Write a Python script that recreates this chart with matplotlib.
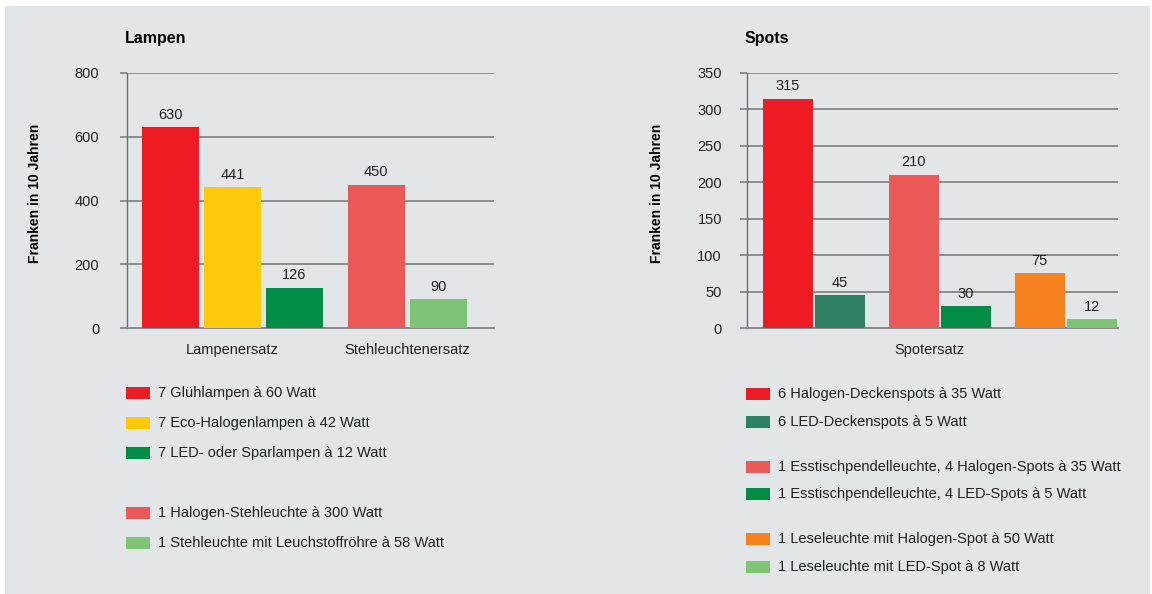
import matplotlib.pyplot as plt
from matplotlib.patches import Rectangle

plt.rcParams['font.family'] = ['Liberation Sans', 'DejaVu Sans']

# Lampen
lamp_groups = ['Lampenersatz', 'Stehleuchtenersatz']
lamp_values = [[630, 441, 126], [450, 90]]
lamp_colors = [['#ed1c24', '#ffc90b', '#008c44'], ['#ea5858', '#7dc474']]
lamp_labels = [['7 Glühlampen à 60 Watt', '7 Eco-Halogenlampen à 42 Watt',
                '7 LED- oder Sparlampen à 12 Watt'],
               ['1 Halogen-Stehleuchte à 300 Watt',
                '1 Stehleuchte mit Leuchstoffröhre à 58 Watt']]

# Spots
spot_groups = ['Spotersatz']
spot_values = [[315, 45], [210, 30], [75, 12]]
spot_colors = [['#ed1c24', '#2f8063'], ['#ea5858', '#008c44'], ['#f5821f', '#7dc474']]
spot_labels = [['6 Halogen-Deckenspots à 35 Watt', '6 LED-Deckenspots à 5 Watt'],
               ['1 Esstischpendelleuchte, 4 Halogen-Spots à 35 Watt',
                '1 Esstischpendelleuchte, 4 LED-Spots à 5 Watt'],
               ['1 Leseleuchte mit Halogen-Spot à 50 Watt',
                '1 Leseleuchte mit LED-Spot à 8 Watt']]

W, H = 1152, 594
BG = '#e3e6e9'
GRID = '#8c8c8c'
TXT = '#231f20'

fig = plt.figure(figsize=(W / 100, H / 100), dpi=100, facecolor='white')
fig.patches.append(Rectangle((5 / W, 0), 1 - 7 / W, 1 - 6 / H, transform=fig.transFigure,
                             facecolor=BG, edgecolor='none', zorder=-10))


def px_axes(x0, y0, x1, y1):
    # pixel box (top-left origin) -> axes
    ax = fig.add_axes([x0 / W, 1 - y1 / H, (x1 - x0) / W, (y1 - y0) / H])
    ax.set_facecolor(BG)
    return ax


def style_axes(ax, ymax, step, pad):
    ax.set_ylim(0, ymax)
    ax.set_yticks(range(0, ymax + 1, step))
    ax.grid(axis='y', color=GRID, linewidth=1.4, zorder=0)
    ax.set_axisbelow(True)
    for s in ['top', 'right']:
        ax.spines[s].set_visible(False)
    ax.spines['left'].set_color('#6d6e71')
    ax.spines['left'].set_linewidth(1.0)
    ax.spines['bottom'].set_color(GRID)
    ax.spines['bottom'].set_linewidth(1.4)
    ax.tick_params(axis='y', length=5, width=1.4, color=GRID, pad=pad,
                   labelsize=10.5, labelcolor=TXT)
    ax.tick_params(axis='x', length=0, pad=11, labelsize=10.5, labelcolor=TXT)


def draw_groups(ax, values, colors, starts, width):
    for g, vals in enumerate(values):
        for i, v in enumerate(vals):
            x = starts[g] + i
            ax.bar(x, v, width=width, color=colors[g][i], zorder=3)
            ax.annotate(str(v), (x, v), xytext=(0, 4), textcoords='offset points',
                        ha='center', va='bottom', fontsize=10.5, color=TXT)


# left chart
ax1 = px_axes(127, 73, 494, 328)
style_axes(ax1, 800, 200, 15)
lamp_starts = [0.70, 4.02]
draw_groups(ax1, lamp_values, lamp_colors, lamp_starts, 0.92)
ax1.set_xlim(0, 367 / 62)
ax1.set_xticks([lamp_starts[g] + (len(v) - 1) / 2 for g, v in enumerate(lamp_values)])
ax1.set_xticklabels(lamp_groups)

# right chart
ax2 = px_axes(747, 73, 1118, 328)
style_axes(ax2, 350, 50, 13)
spot_starts = [0.79, 3.21, 5.63]
draw_groups(ax2, spot_values, spot_colors, spot_starts, 0.96)
ax2.set_xlim(0, 371 / 52)
ax2.set_xticks([371 / 52 / 2 - 0.06])
ax2.set_xticklabels(spot_groups)

# titles and y labels
fig.text(125 / W, 1 - 38 / H, 'Lampen', fontsize=11.5, fontweight='bold', color='black',
         va='center', ha='left')
fig.text(745 / W, 1 - 38 / H, 'Spots', fontsize=11.5, fontweight='bold', color='black',
         va='center', ha='left')
fig.text(35 / W, 1 - 193 / H, 'Franken in 10 Jahren', rotation=90, fontsize=10,
         fontweight='bold', color='black', va='center', ha='center')
fig.text(657 / W, 1 - 193 / H, 'Franken in 10 Jahren', rotation=90, fontsize=10,
         fontweight='bold', color='black', va='center', ha='center')


def legend_block(x, rows):
    for y, label, color in rows:
        fig.patches.append(Rectangle((x / W, 1 - (y + 6) / H), 24 / W, 12 / H,
                                     transform=fig.transFigure, facecolor=color,
                                     edgecolor='none'))
        fig.text((x + 32) / W, 1 - y / H, label, fontsize=10.5, color=TXT,
                 va='center', ha='left')


lamp_rows_y = [[393, 423, 453], [513, 543]]
rows = []
for g in range(len(lamp_labels)):
    for i, lab in enumerate(lamp_labels[g]):
        rows.append((lamp_rows_y[g][i], lab, lamp_colors[g][i]))
legend_block(126, rows)

spot_rows_y = [[394, 422], [467, 494], [539, 567]]
rows = []
for g in range(len(spot_labels)):
    for i, lab in enumerate(spot_labels[g]):
        rows.append((spot_rows_y[g][i], lab, spot_colors[g][i]))
legend_block(746, rows)

fig.savefig('out.png', dpi=100, facecolor='white')
